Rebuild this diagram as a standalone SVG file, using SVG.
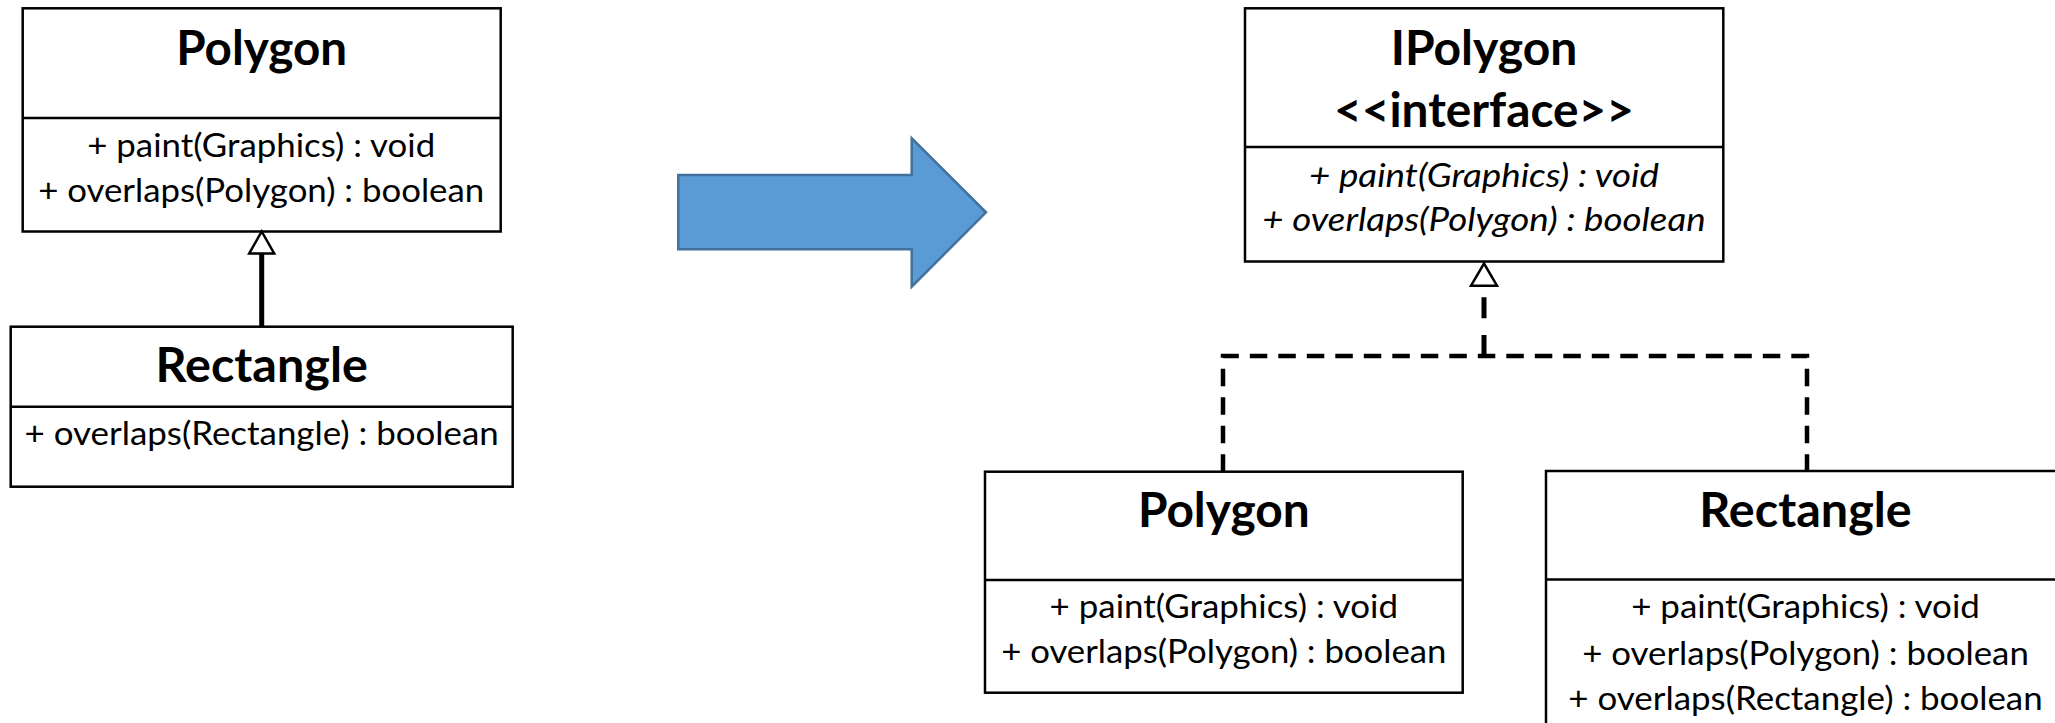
<svg xmlns="http://www.w3.org/2000/svg" width="2055" height="723" viewBox="0 0 2055 723">
  <style>
    .box { fill: #ffffff; stroke: #000000; stroke-width: 2.5; }
    .div { stroke: #000000; stroke-width: 2.5; }
    .title { font-family: Lato, "Liberation Sans", sans-serif; font-weight: 700; font-size: 47px; text-anchor: middle; fill: #000000; }
    .op { font-family: Lato, "Liberation Sans", sans-serif; font-size: 33px; text-anchor: middle; fill: #000000; }
    .it { font-style: italic; }
    .head { fill: #ffffff; stroke: #000000; stroke-width: 2.5; stroke-linejoin: miter; }
    .solid { stroke: #000000; stroke-width: 5; fill: none; }
    .dash { stroke: #000000; stroke-width: 4.5; fill: none; stroke-dasharray: 17.5 11; }
  </style>
  <rect x="0" y="0" width="2055" height="723" fill="#ffffff"/>

  <g id="left-polygon">
    <rect class="box" x="22.7" y="8.3" width="478" height="223.2"/>
    <line class="div" x1="22.7" y1="118" x2="500.7" y2="118"/>
    <text class="title" x="261.7" y="65" textLength="171" lengthAdjust="spacingAndGlyphs">Polygon</text>
    <text class="op" x="261.2" y="157" textLength="348" lengthAdjust="spacingAndGlyphs">+ paint(Graphics) : void</text>
    <text class="op" x="261.2" y="202" textLength="446" lengthAdjust="spacingAndGlyphs">+ overlaps(Polygon) : boolean</text>
  </g>

  <g id="left-rectangle">
    <rect class="box" x="10.7" y="326.7" width="502" height="160"/>
    <line class="div" x1="10.7" y1="406.7" x2="512.7" y2="406.7"/>
    <text class="title" x="261.7" y="382" textLength="212.4" lengthAdjust="spacingAndGlyphs">Rectangle</text>
    <text class="op" x="261.7" y="445" textLength="474.3" lengthAdjust="spacingAndGlyphs">+ overlaps(Rectangle) : boolean</text>
  </g>

  <g id="transform-arrow">
    <polygon points="678.3,175 911.7,175 911.7,138.3 986,212.3 911.7,286.7 911.7,249.3 678.3,249.3" fill="#5B9BD5" stroke="#41719C" stroke-width="2.5" stroke-linejoin="miter"/>
  </g>

  <g id="ipolygon">
    <rect class="box" x="1245" y="8.3" width="478.3" height="253.2"/>
    <line class="div" x1="1245" y1="147" x2="1723.3" y2="147"/>
    <text class="title" x="1484" y="65" textLength="186.7" lengthAdjust="spacingAndGlyphs">IPolygon</text>
    <text class="title" x="1484" y="126.7" textLength="300" lengthAdjust="spacingAndGlyphs">&lt;&lt;interface&gt;&gt;</text>
    <text class="op it" x="1484" y="187" textLength="350" lengthAdjust="spacingAndGlyphs">+ paint(Graphics) : void</text>
    <text class="op it" x="1484" y="231" textLength="443.3" lengthAdjust="spacingAndGlyphs">+ overlaps(Polygon) : boolean</text>
  </g>

  <g id="right-polygon">
    <rect class="box" x="985" y="471.7" width="477.7" height="221"/>
    <line class="div" x1="985" y1="580" x2="1462.7" y2="580"/>
    <text class="title" x="1223.8" y="526.7" textLength="171.7" lengthAdjust="spacingAndGlyphs">Polygon</text>
    <text class="op" x="1223.8" y="618.3" textLength="348.4" lengthAdjust="spacingAndGlyphs">+ paint(Graphics) : void</text>
    <text class="op" x="1223.8" y="663.3" textLength="445.3" lengthAdjust="spacingAndGlyphs">+ overlaps(Polygon) : boolean</text>
  </g>

  <g id="right-rectangle">
    <rect class="box" x="1546" y="471" width="540" height="300"/>
    <line class="div" x1="1546" y1="579.5" x2="2086" y2="579.5"/>
    <text class="title" x="1805.5" y="526.7" textLength="212.4" lengthAdjust="spacingAndGlyphs">Rectangle</text>
    <text class="op" x="1805.5" y="618.3" textLength="348.7" lengthAdjust="spacingAndGlyphs">+ paint(Graphics) : void</text>
    <text class="op" x="1805.5" y="665" textLength="446.7" lengthAdjust="spacingAndGlyphs">+ overlaps(Polygon) : boolean</text>
    <text class="op" x="1805.5" y="710" textLength="474.3" lengthAdjust="spacingAndGlyphs">+ overlaps(Rectangle) : boolean</text>
  </g>

  <g id="connectors">
    <line class="solid" x1="261.7" y1="253.5" x2="261.7" y2="326.7"/>
    <polygon class="head" points="261.7,231.5 274.2,253.5 249.2,253.5"/>
    <line class="solid" x1="1484" y1="356" x2="1484" y2="285.7" style="stroke-dasharray: 21 16.7"/>
    <polygon class="head" points="1484,263.5 1497,285.7 1471,285.7"/>
    <path class="dash" d="M1223,471.7 V356 H1807 V471"/>
  </g>
</svg>
